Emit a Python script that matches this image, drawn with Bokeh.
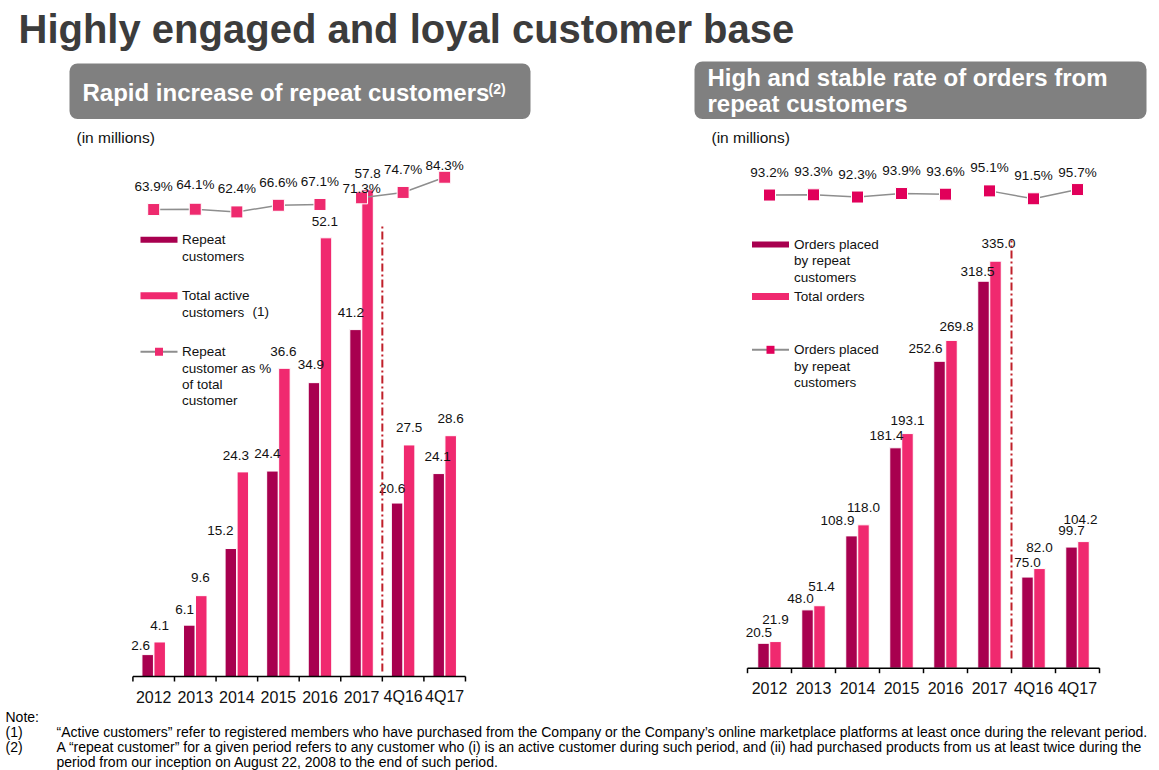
import numpy as np
from bokeh.plotting import figure
from bokeh.models import Range1d, BoxAnnotation
from bokeh.core.properties import value
from bokeh.embed import file_html
from bokeh.resources import INLINE

# ---------------- data ----------------
categories = ["2012", "2013", "2014", "2015", "2016", "2017", "4Q16", "4Q17"]
repeat_customers = [2.6, 6.1, 15.2, 24.4, 34.9, 41.2, 20.6, 24.1]
total_active_customers = [4.1, 9.6, 24.3, 36.6, 52.1, 57.8, 27.5, 28.6]
repeat_pct = [63.9, 64.1, 62.4, 66.6, 67.1, 71.3, 74.7, 84.3]
orders_by_repeat = [20.5, 48.0, 108.9, 181.4, 252.6, 318.5, 75.0, 99.7]
total_orders = [21.9, 51.4, 118.0, 193.1, 269.8, 335.0, 82.0, 104.2]
orders_repeat_pct = [93.2, 93.3, 92.3, 93.9, 93.6, 95.1, 91.5, 95.7]

title_text = "Highly engaged and loyal customer base"
left_box_title = "Rapid increase of repeat customers"
right_box_title = ["High and stable rate of orders from", "repeat customers"]
unit_text = "(in millions)"
notes = [
    ("Note:", ""),
    ("(1)", "\u201cActive customers\u201d refer to registered members who have purchased from the Company or the Company\u2019s online marketplace platforms at least once during the relevant period."),
    ("(2)", "A \u201crepeat customer\u201d for a given period refers to any customer who (i) is an active customer during such period, and (ii) had purchased products from us at least twice during the"),
    ("", "period from our inception on August 22, 2008 to the end of such period."),
]

# ---------------- styles ----------------
W, H = 1159, 770
FONT = value("Liberation Sans")
DARK = "#A8004F"
PINK = "#F0296F"
GRAY_LINE = "#8E8E8E"
BOX = "#808080"
DASH = "#C0202A"

# label nudges (screen px): horizontal shift and lift above bar top
L_NUDGE = dict(
    dark_dx=[-7, -4.7, -10.5, -5, -3, -4.7, -5, -1],
    dark_dy=[9.5, 16, 18, 17.7, 18, 16.7, 15, 16.7],
    pink_dx=[0, -1, -7, -1, -1, 0, 0, 0],
    pink_dy=[16.3, 18, 16, 17, 16, 16, 17, 17],
    pct_lift=[23, 25, 23, 23, 23, 9, 23, 12],
)
R_NUDGE = dict(
    dark_dx=[-4.7, -7, -14, -9, -14, -6, 0, 0],
    dark_dy=[10.7, 11.4, 15.3, 12.7, 12.4, 10, 14.4, 16.6],
    pink_dx=[0, 2, 0, 0, 5, 3, 0, -3],
    pink_dy=[22, 19, 17.3, 13.3, 14.3, 17.3, 21, 21.7],
    pct_lift=[23, 23, 23, 23, 23, 23, 23, 17],
)


def Y(py):
    return H - py


def xr(px0, ppu):
    return Range1d(-px0 / ppu, (W - px0) / ppu)


def yr(py0, ppu):
    return Range1d((py0 - H) / ppu, py0 / ppu)


p = figure(width=W, height=H, x_range=Range1d(0, W), y_range=Range1d(0, H),
           output_backend="svg", toolbar_location=None, min_border=0,
           x_axis_location=None, y_axis_location=None,
           outline_line_color=None, background_fill_color="white",
           border_fill_color="white")
p.grid.visible = False

# panel geometry (pixels): category centre / spacing, baseline / px per unit
L = dict(cx=153.2, dx=41.57, base=676.0, ppu=8.42, pa=310.2, pp=1.583)
R = dict(cx=769.0, dx=44.0, base=667.7, ppu=1.215, pa=399.6, pp=2.2)

p.extra_x_ranges = {"lx": xr(L["cx"], L["dx"]), "rx": xr(R["cx"], R["dx"])}
p.extra_y_ranges = {
    "ly": yr(L["base"], L["ppu"]), "lp": yr(L["pa"], L["pp"]),
    "ry": yr(R["base"], R["ppu"]), "rp": yr(R["pa"], R["pp"]),
}


def panel(g, xn, yn, pn, dark, pink, pct, marker_color, nud, dash_top, dash_bot):
    n = len(categories)
    idx = np.arange(n, dtype=float)
    off = 6.0 / g["dx"]
    bw = 11.5 / g["dx"]
    kw = dict(x_range_name=xn, y_range_name=yn)
    p.vbar(x=idx - off, top=dark, bottom=0, width=bw, fill_color=DARK,
           line_color="white", line_width=1, **kw)
    p.vbar(x=idx + off, top=pink, bottom=0, width=bw, fill_color=PINK,
           line_color="white", line_width=1, **kw)
    tkw = dict(text_font=FONT, text_font_size="13.5px", text_color="#111111",
               text_align="center", text_baseline="middle", **kw)
    p.text(x=idx - off, y=dark, text=[f"{v:.1f}" for v in dark],
           x_offset=nud["dark_dx"], y_offset=[-v for v in nud["dark_dy"]], **tkw)
    p.text(x=idx + off, y=pink, text=[f"{v:.1f}" for v in pink],
           x_offset=nud["pink_dx"], y_offset=[-v for v in nud["pink_dy"]], **tkw)

    # axis line, ticks and category labels
    edges = np.arange(n + 1) - 0.5
    tick = 5.0 / g["ppu"]
    p.segment(x0=[-0.5], y0=[0], x1=[n - 0.5], y1=[0], line_color="black",
              line_width=1.5, **kw)
    p.segment(x0=edges, y0=np.zeros(n + 1), x1=edges, y1=np.full(n + 1, -tick),
              line_color="black", line_width=1.5, **kw)
    p.text(x=idx, y=np.zeros(n), text=categories, y_offset=20,
           text_font=FONT, text_font_size="16px", text_color="#111111",
           text_align="center", text_baseline="middle", **kw)

    # dash-dot divider between annual and quarterly figures
    split = categories.index("4Q16") - 0.5
    p.segment(x0=[split], y0=[dash_bot], x1=[split], y1=[dash_top],
              line_color=DASH, line_width=2, line_dash="8 3 2 3", **kw)

    # percentage line (broken between 2016 and 2017)
    gap = categories.index("2017")
    lx = np.insert(idx, gap, np.nan)
    ly = np.insert(np.array(pct, dtype=float), gap, np.nan)
    pk = dict(x_range_name=xn, y_range_name=pn)
    p.line(lx, ly, line_color=GRAY_LINE, line_width=1.5, **pk)
    p.scatter(idx, pct, marker="square", size=12, fill_color=marker_color,
              line_color="white", line_width=1, **pk)
    p.text(x=idx, y=pct, text=[f"{v:.1f}%" for v in pct],
           y_offset=[-v for v in nud["pct_lift"]], text_font=FONT,
           text_font_size="13.5px", text_color="#111111",
           text_align="center", text_baseline="middle", **pk)


panel(L, "lx", "ly", "lp", repeat_customers, total_active_customers, repeat_pct,
      "#EE2A6E", L_NUDGE, 53.5, 0.6)
panel(R, "rx", "ry", "rp", orders_by_repeat, total_orders, orders_repeat_pct,
      "#E1005A", R_NUDGE, 352, 8)

# ---------------- title, boxes ----------------
p.text(x=[18], y=[Y(28)], text=[title_text], text_font=FONT,
       text_font_size="40px", text_font_style="bold", text_color="#3C3C3C",
       text_baseline="middle")

for l, r, t, b in [(69, 530, 63, 118.5), (694, 1146, 61, 118.5)]:
    p.add_layout(BoxAnnotation(left=l, right=r, top=Y(t), bottom=Y(b),
                               fill_color=BOX, fill_alpha=1, line_color=None,
                               border_radius=8, level="underlay"))

bt = dict(text_font=FONT, text_font_size="24px", text_font_style="bold",
          text_color="white", text_baseline="middle")
p.text(x=[82], y=[Y(91.7)], text=[left_box_title], **bt)
p.text(x=[488], y=[Y(88)], text=["(2)"], text_font=FONT, text_font_size="14px",
       text_font_style="bold", text_color="white", text_baseline="middle")
p.text(x=[707, 707], y=[Y(77.4), Y(103.4)], text=right_box_title, **bt)

ut = dict(text_font=FONT, text_font_size="15.5px", text_color="#111111",
          text_baseline="middle")
p.text(x=[76, 711], y=[Y(136.5), Y(136.5)], text=[unit_text, unit_text], **ut)

# ---------------- legends ----------------
lt = dict(text_font=FONT, text_font_size="13.5px", text_color="#111111",
          text_baseline="middle")


def legend(x0, x1, tx, rows):
    for kind, yc, lines in rows:
        if kind == "dark":
            p.segment(x0=[x0], y0=[Y(yc)], x1=[x1], y1=[Y(yc)], line_color=DARK,
                      line_width=6, line_cap="butt")
        elif kind == "pink":
            p.segment(x0=[x0], y0=[Y(yc)], x1=[x1], y1=[Y(yc)], line_color=PINK,
                      line_width=7, line_cap="butt")
        else:
            p.segment(x0=[x0], y0=[Y(yc)], x1=[x1], y1=[Y(yc)],
                      line_color=GRAY_LINE, line_width=2)
            p.scatter([(x0 + x1) / 2], [Y(yc)], marker="square", size=8,
                      fill_color=kind, line_color=None)
        p.text(x=[tx] * len(lines), y=[Y(yc + 16.3 * i) for i in range(len(lines))],
               text=lines, **lt)


legend(140, 177, 181.5, [
    ("dark", 239.3, ["Repeat", "customers"]),
    ("pink", 295.3, ["Total active", "customers"]),
    ("#EE2A6E", 351.3, ["Repeat", "customer as %", "of total", "customer"]),
])
p.text(x=[252], y=[Y(311)], text=["(1)"], **lt)
legend(751.5, 788.5, 793.5, [
    ("dark", 244, ["Orders placed", "by repeat", "customers"]),
    ("pink", 296, ["Total orders"]),
    ("#E1005A", 349.3, ["Orders placed", "by repeat", "customers"]),
])

# ---------------- notes ----------------
nt = dict(text_font=FONT, text_font_size="14px", text_color="#000000",
          text_baseline="middle")
for i, (lab, txt) in enumerate(notes):
    yc = Y(716.7 + 14.8 * i)
    if lab:
        p.text(x=[5], y=[yc], text=[lab], **nt)
    if txt:
        p.text(x=[56], y=[yc], text=[txt], **nt)

open("out.html", "w").write(file_html(p, INLINE))
